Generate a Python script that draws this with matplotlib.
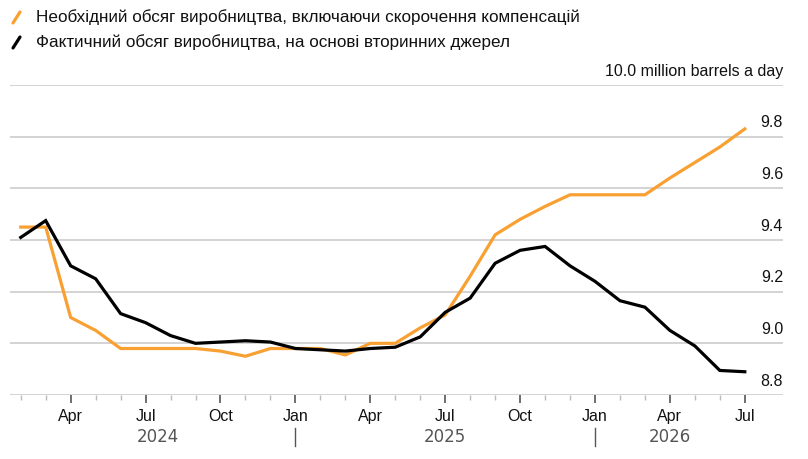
import matplotlib
matplotlib.use("Agg")
import matplotlib.pyplot as plt
from matplotlib.lines import Line2D
from matplotlib.ticker import FixedLocator
import matplotlib.transforms as mtransforms

plt.rcParams['font.family'] = ['Liberation Sans', 'DejaVu Sans']

# monthly data, Feb 2024 .. Jul 2026
months = ["Feb", "Mar", "Apr", "May", "Jun", "Jul", "Aug", "Sep", "Oct", "Nov", "Dec",
          "Jan", "Feb", "Mar", "Apr", "May", "Jun", "Jul", "Aug", "Sep", "Oct", "Nov", "Dec",
          "Jan", "Feb", "Mar", "Apr", "May", "Jun", "Jul"]
required = [9.45, 9.45, 9.10, 9.05, 8.98, 8.98, 8.98, 8.98, 8.97, 8.95, 8.98,
            8.98, 8.98, 8.955, 9.00, 9.00, 9.06, 9.11, 9.26, 9.42, 9.48, 9.53, 9.575,
            9.575, 9.575, 9.575, 9.64, 9.70, 9.76, 9.83]
actual = [9.41, 9.475, 9.30, 9.25, 9.115, 9.08, 9.03, 9.00, 9.005, 9.01, 9.005,
          8.98, 8.975, 8.97, 8.98, 8.985, 9.025, 9.12, 9.175, 9.31, 9.36, 9.375, 9.30,
          9.24, 9.165, 9.14, 9.05, 8.99, 8.895, 8.89]
years = ["2024", "2025", "2026"]
yticks = [8.8, 9.0, 9.2, 9.4, 9.6, 9.8, 10.0]
legend_labels = ["Необхідний обсяг виробництва, включаючи скорочення компенсацій",
                 "Фактичний обсяг виробництва, на основі вторинних джерел"]

ORANGE = "#f8a032"
GRID = "#cccccc"

fig = plt.figure(figsize=(8.08, 4.59), dpi=100)
ax = fig.add_axes([10 / 808, 1 - 395 / 459, 773 / 808, 310 / 459])

x = list(range(len(months)))
ax.plot(x, required, color=ORANGE, lw=2.3, solid_joinstyle="miter", zorder=3)
ax.plot(x, actual, color="black", lw=2.3, solid_joinstyle="miter", zorder=4)

ax.set_xlim(-0.43, 30.53)
ax.set_ylim(8.8, 10.0)

for s in ax.spines.values():
    s.set_visible(False)

# gridlines and right-hand labels sitting on top of them
for v in yticks:
    ax.axhline(v, color=GRID, lw=1.2, zorder=1)
    lab = "10.0 million barrels a day" if v == 10.0 else f"{v:.1f}"
    off = mtransforms.offset_copy(ax.get_yaxis_transform(), fig=fig, x=0, y=4.5, units="points")
    ax.text(1.0, v, lab, transform=off, ha="right", va="bottom", fontsize=11.5,
            color="#111111")

ax.set_yticks([])

# month ticks
major = [i for i, m in enumerate(months) if m in ("Jan", "Apr", "Jul", "Oct")]
ax.xaxis.set_major_locator(FixedLocator(major))
ax.xaxis.set_minor_locator(FixedLocator(x))
ax.set_xticklabels([months[i] for i in major], fontsize=11.5, color="#111111")
ax.tick_params(axis="x", which="major", length=6, width=1.2, color="#555555", pad=4)
ax.tick_params(axis="x", which="minor", length=3.5, width=1, color="#bbbbbb")

# year labels centred under each year's span
jan_idx = [i for i, m in enumerate(months) if m == "Jan"]
bounds = [0] + jan_idx + [len(months) - 1]
trans = mtransforms.blended_transform_factory(ax.transData, fig.transFigure)
for k, yr in enumerate(years):
    cx = (bounds[k] + bounds[k + 1]) / 2
    fig.text(cx, 1 - 437 / 459, yr, transform=trans, ha="center", va="center",
             fontsize=12, family="DejaVu Sans", color="#555555")
for j in jan_idx:
    fig.add_artist(Line2D([j, j], [1 - 428 / 459, 1 - 446 / 459], transform=trans,
                          color="#555555", lw=1))

# legend with slanted markers
for k, (lab, col) in enumerate(zip(legend_labels, [ORANGE, "black"])):
    yc = 17 + 25 * k
    fig.add_artist(Line2D([13 / 808, 20 / 808], [1 - (yc + 6) / 459, 1 - (yc - 5) / 459],
                          transform=fig.transFigure, color=col, lw=2.3,
                          solid_capstyle="round"))
    fig.text(36 / 808, 1 - yc / 459, lab, ha="left", va="center", fontsize=12.3,
             color="#111111")

fig.savefig("out.png", dpi=100)
